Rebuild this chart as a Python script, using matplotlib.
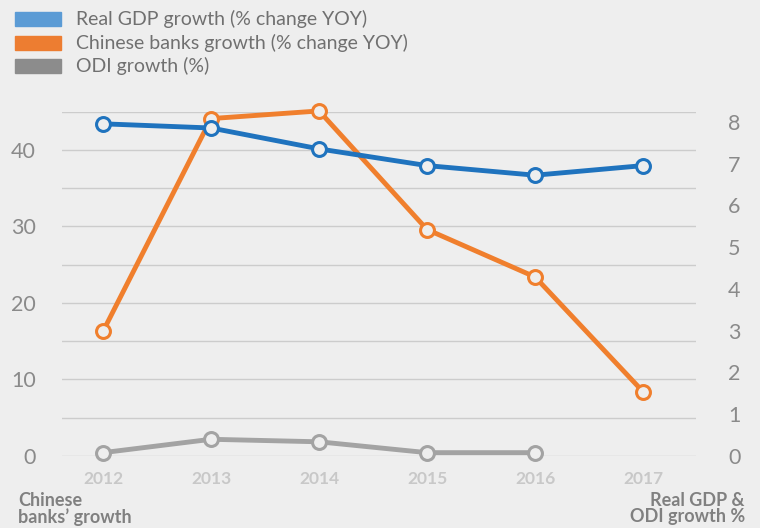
import matplotlib

matplotlib.use("Agg")

import matplotlib.pyplot as plt  # noqa: E402
import numpy as np  # noqa: E402
from matplotlib.patches import Rectangle  # noqa: E402

# --- data ---
years = ["2012", "2013", "2014", "2015", "2016", "2017"]
gdp_growth = [7.95, 7.85, 7.35, 6.95, 6.72, 6.95]          # right axis
bank_growth = [16.3, 44.1, 45.1, 29.6, 23.4, 8.4]          # left axis
odi_growth = [0.08, 0.40, 0.34, 0.08, 0.08]                # right axis (2012-2016)

legend_labels = ["Real GDP growth (% change YOY)",
                 "Chinese banks growth (% change YOY)",
                 "ODI growth (%)"]
left_ticks = [0, 10, 20, 30, 40]
right_ticks = [0, 1, 2, 3, 4, 5, 6, 7, 8]

BG = "#eeeeee"
BLUE = "#1f73be"
ORANGE = "#f07f2d"
GREY = "#a3a3a3"
LEG_COLORS = ["#5b9bd5", "#ed7d31", "#8c8c8c"]
FONT = "Lato"

plt.rcParams["font.family"] = [FONT, "DejaVu Sans"]

fig = plt.figure(figsize=(7.6, 5.28), dpi=100, facecolor=BG)
ax = fig.add_axes([62 / 760, 1 - 456 / 528, (696 - 62) / 760, (456 - 111.7) / 528])
ax.set_facecolor(BG)
ax2 = ax.twinx()

x = np.arange(len(years))
ax.set_xlim(-0.38, 5.49)
ax.set_ylim(0, 45)
ax2.set_ylim(0, 8.24)

# grid every 5 on the left scale, labels every 10
ax.set_yticks(left_ticks)
ax.set_yticks(np.arange(5, 50, 10), minor=True)
ax.grid(True, which="both", axis="y", color="#cccccc", linewidth=1)
ax.set_axisbelow(True)
for a in (ax, ax2):
    for s in a.spines.values():
        s.set_visible(False)

marker_kw = dict(marker="o", markersize=10, markerfacecolor=BG,
                 markeredgewidth=2.2, linewidth=3.5, clip_on=False)
ax.plot(x, bank_growth, color=ORANGE, markeredgecolor=ORANGE, zorder=3, **marker_kw)
ax2.plot(x[:len(odi_growth)], odi_growth, color=GREY, markeredgecolor=GREY,
         zorder=3, **marker_kw)
ax2.plot(x, gdp_growth, color=BLUE, markeredgecolor=BLUE, zorder=4, **marker_kw)

ax.tick_params(axis="y", length=0, pad=19, labelsize=15.5, labelcolor="#8a8a8a")
ax.tick_params(axis="y", which="minor", length=0)
ax2.set_yticks(right_ticks)
ax2.tick_params(axis="y", length=0, pad=23, labelsize=15.5, labelcolor="#8a8a8a")
ax.set_xticks(x)
ax.set_xticklabels(years)
ax.tick_params(axis="x", length=0, pad=11, labelsize=12.5, labelcolor="#c8c8c8")
for lbl in ax.get_xticklabels():
    lbl.set_fontweight("bold")

# axis captions under the plot
fig.text(18 / 760, 1 - 492 / 528, "Chinese\nbanks\u2019 growth", ha="left", va="top",
         fontsize=13, fontweight="bold", color="#808080", linespacing=0.95)
fig.text(745 / 760, 1 - 492 / 528, "Real GDP &\nODI growth %", ha="right", va="top",
         fontsize=13, fontweight="bold", color="#808080", linespacing=0.95)

# legend drawn as patches + text at top-left
for i, (lab, col) in enumerate(zip(legend_labels, LEG_COLORS)):
    yc = 19 + i * 23.5
    fig.patches.append(Rectangle((15 / 760, 1 - (yc + 7) / 528), 46 / 760, 14 / 528,
                                 transform=fig.transFigure, color=col))
    fig.text(76 / 760, 1 - yc / 528, lab, ha="left", va="center",
             fontsize=14, color="#707070")

fig.savefig("out.png", dpi=100, facecolor=BG)
